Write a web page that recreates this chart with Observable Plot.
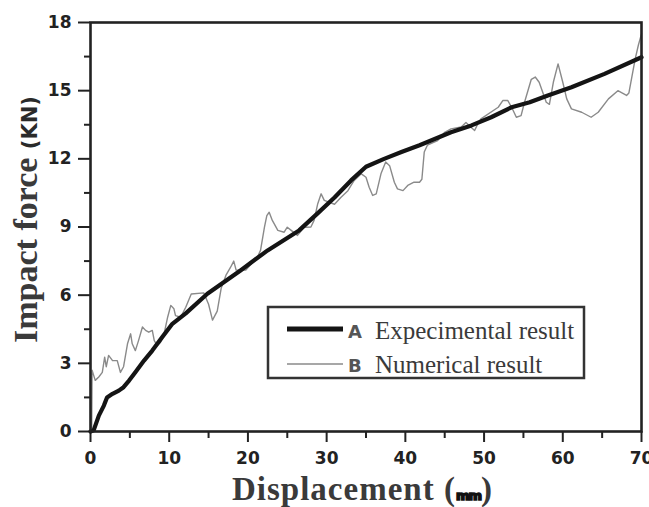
<!DOCTYPE html>
<html>
<head>
<meta charset="utf-8">
<script src="https://cdn.jsdelivr.net/npm/d3@7"></script>
<script src="https://cdn.jsdelivr.net/npm/@observablehq/plot@0.6"></script>
<style>
  body { margin: 0; background: #fff; }
  svg { display: block; }
</style>
</head>
<body>
<div id="chart"></div>
<script>
// Experimental curve (A): displacement (mm) vs impact force (kN)
const expX = [0, 0.4, 1.06, 1.7, 2.1, 2.8, 3.6, 4.2, 4.9, 5.7, 6.8, 7.85, 9.1, 10.4, 12.1, 14.85,
  19.1, 22.5, 26.5, 28.85, 31, 33.1, 35.0, 37.3, 39.5, 41.8, 45.8, 48.4, 50.9, 53.5, 55.8,
  58.1, 61.1, 65.3, 70];
const expY = [0, 0.05, 0.7, 1.14, 1.5, 1.66, 1.8, 1.95, 2.24, 2.61, 3.12, 3.56, 4.15, 4.74, 5.2, 6.06,
  7.1, 7.97, 8.85, 9.6, 10.3, 11.05, 11.65, 12.0, 12.3, 12.6, 13.17, 13.47, 13.83, 14.27, 14.49,
  14.79, 15.15, 15.74, 16.47];

// Numerical curve (B)
const numX = [0.15, 0.2, 0.6, 1.05, 1.5, 1.8, 2.0, 2.3, 2.8, 3.4, 3.8, 4.2, 4.7, 5.1, 5.3, 5.7, 6.1,
  6.6, 7.0, 7.4, 7.85, 8.1, 8.5, 8.9, 9.3, 9.8, 10.2, 10.6, 10.8, 11.45, 12.1, 12.8, 14.4, 15.0,
  15.5, 16.1, 16.6, 17.2, 17.8, 18.2, 18.5, 19.7, 21.2, 21.6, 22.1, 22.4, 22.7, 23.1, 23.8, 24.6,
  25.0, 25.5, 26.3, 27.15, 28.0, 28.4, 28.85, 29.3, 29.7, 31.0, 31.8, 32.7, 33.5, 34.4, 35.0,
  35.4, 35.85, 36.3, 36.9, 37.5, 38.0, 38.6, 39.0, 39.7, 40.3, 41.1, 41.8, 42.1, 42.4, 42.8,
  44.1, 45.0, 45.8, 47.1, 47.7, 48.3, 48.8, 49.2, 49.6, 51.8, 52.4, 53.0, 53.5, 54.1, 54.7,
  55.15, 56.0, 56.5, 57.0, 57.9, 58.3, 58.8, 59.4, 60.0, 60.5, 61.1, 62.4, 63.6, 64.5, 65.8,
  67.0, 68.1, 68.4, 69.2, 69.6, 70.0];
const numY = [0, 2.7, 2.25, 2.4, 2.6, 3.27, 2.85, 3.35, 3.12, 3.12, 2.6, 2.85, 3.86, 4.3, 3.86, 3.56, 4.0,
  4.6, 4.45, 4.37, 4.45, 4.0, 3.78, 3.93, 4.22, 5.03, 5.55, 5.4, 5.1, 5.03, 5.47, 6.05, 6.1, 5.6,
  4.9, 5.3, 6.3, 6.87, 7.23, 7.5, 7.1, 7.1, 7.67, 7.97, 8.99, 9.5, 9.65, 9.29, 8.85, 8.77,
  8.99, 8.85, 8.63, 8.99, 9.0, 9.29, 10.0, 10.46, 10.17, 10.0, 10.3, 10.6, 11.05, 11.34, 11.19,
  10.75, 10.39, 10.46, 11.34, 11.86, 11.7, 10.97, 10.68, 10.6, 10.83, 10.97, 10.97, 11.1, 12.3, 12.6,
  12.8, 13.17, 13.32, 13.4, 13.6, 13.4, 13.25, 13.54, 13.76, 14.27, 14.57, 14.57, 14.27, 13.83, 13.9,
  14.5, 15.5, 15.6, 15.37, 14.49, 14.4, 15.37, 16.18, 15.37, 14.64, 14.2, 14.05, 13.83, 14.05, 14.64,
  15.0, 14.79, 14.9, 16.4, 17.0, 17.5];

// Axis ticks
const xTicks = [0, 10, 20, 30, 40, 50, 60, 70];
const xMinor = [5, 15, 25, 35, 45, 55, 65];
const yTicks = [0, 3, 6, 9, 12, 15, 18];
const yMinor = [1.5, 4.5, 7.5, 10.5, 13.5, 16.5];

// Legend entries
const seriesKeys = ["A", "B"];
const seriesNames = ["Expecimental result", "Numerical result"];

const experimental = expX.map((x, i) => ({x, y: expY[i]}));
const numerical = numX.map((x, i) => ({x, y: numY[i]}));

const tickFont = {fontFamily: "DejaVu Sans", fontWeight: "bold", fontSize: 17};

const plot = Plot.plot({
  width: 649,
  height: 507,
  marginLeft: 90,
  marginRight: 8,
  marginTop: 22,
  marginBottom: 76,
  x: {domain: [0, 70]},
  y: {domain: [0, 18]},
  style: {background: "#fff", color: "#222", fontFamily: "DejaVu Sans"},
  marks: [
    Plot.axisX(xTicks, {tickSize: 11, tickPadding: 9, strokeWidth: 2, label: null, ...tickFont}),
    Plot.axisX(xMinor, {tickSize: 7, strokeWidth: 2, text: null, label: null}),
    Plot.axisY(yTicks, {tickSize: 12, tickPadding: 7, strokeWidth: 2, label: null, ...tickFont}),
    Plot.axisY(yMinor, {tickSize: 6, strokeWidth: 2, text: null, label: null}),
    Plot.line(numerical, {x: "x", y: "y", stroke: "#8a8a8a", strokeWidth: 1.4}),
    Plot.line(experimental, {x: "x", y: "y", stroke: "#141414", strokeWidth: 4.2}),
    Plot.frame({stroke: "#222", strokeWidth: 2.6})
  ]
});

document.getElementById("chart").appendChild(plot);

const svg = d3.select(plot);

// Y axis title
const yTitle = svg.append("text")
  .attr("transform", "translate(37,343) rotate(-90)")
  .attr("text-anchor", "start")
  .attr("fill", "#3a3a3a");
yTitle.append("tspan")
  .attr("font-family", "Liberation Serif")
  .attr("font-weight", "bold")
  .attr("font-size", 34)
  .text("Impact force ");
yTitle.append("tspan")
  .attr("font-family", "DejaVu Sans")
  .attr("font-weight", "bold")
  .attr("font-size", 21)
  .attr("fill", "#2a2a2a")
  .text("(KN)");

// X axis title
const xTitle = svg.append("text")
  .attr("x", 232)
  .attr("y", 500)
  .attr("text-anchor", "start")
  .attr("fill", "#3a3a3a")
  .attr("font-family", "Liberation Serif")
  .attr("font-weight", "bold")
  .attr("font-size", 33);
xTitle.append("tspan").attr("letter-spacing", 1).text("Displacement (");
xTitle.append("tspan")
  .attr("font-family", "DejaVu Sans")
  .attr("font-size", 13)
  .attr("fill", "#111")
  .attr("stroke", "#111")
  .attr("stroke-width", 1.6)
  .attr("letter-spacing", -1)
  .text("mm");
xTitle.append("tspan").text(")");

// Legend
const legend = svg.append("g").attr("text-anchor", "start");
legend.append("rect")
  .attr("x", 268).attr("y", 307).attr("width", 316).attr("height", 71)
  .attr("fill", "#fff").attr("stroke", "#333").attr("stroke-width", 2.5);
const legendStyles = [
  {stroke: "#141414", width: 5, lineY: 329, textY: 339},
  {stroke: "#8a8a8a", width: 1.4, lineY: 364, textY: 373}
];
seriesKeys.forEach((key, i) => {
  const s = legendStyles[i];
  legend.append("line")
    .attr("x1", 287).attr("x2", 343)
    .attr("y1", s.lineY).attr("y2", s.lineY)
    .attr("stroke", s.stroke).attr("stroke-width", s.width);
  legend.append("text")
    .attr("x", 348).attr("y", s.textY - 1)
    .attr("font-family", "DejaVu Sans").attr("font-weight", "bold")
    .attr("font-size", 18).attr("fill", "#555")
    .text(key);
  legend.append("text")
    .attr("x", 375).attr("y", s.textY)
    .attr("font-family", "Liberation Serif")
    .attr("font-size", 25).attr("fill", "#3a3a3a")
    .text(seriesNames[i]);
});
</script>
</body>
</html>
